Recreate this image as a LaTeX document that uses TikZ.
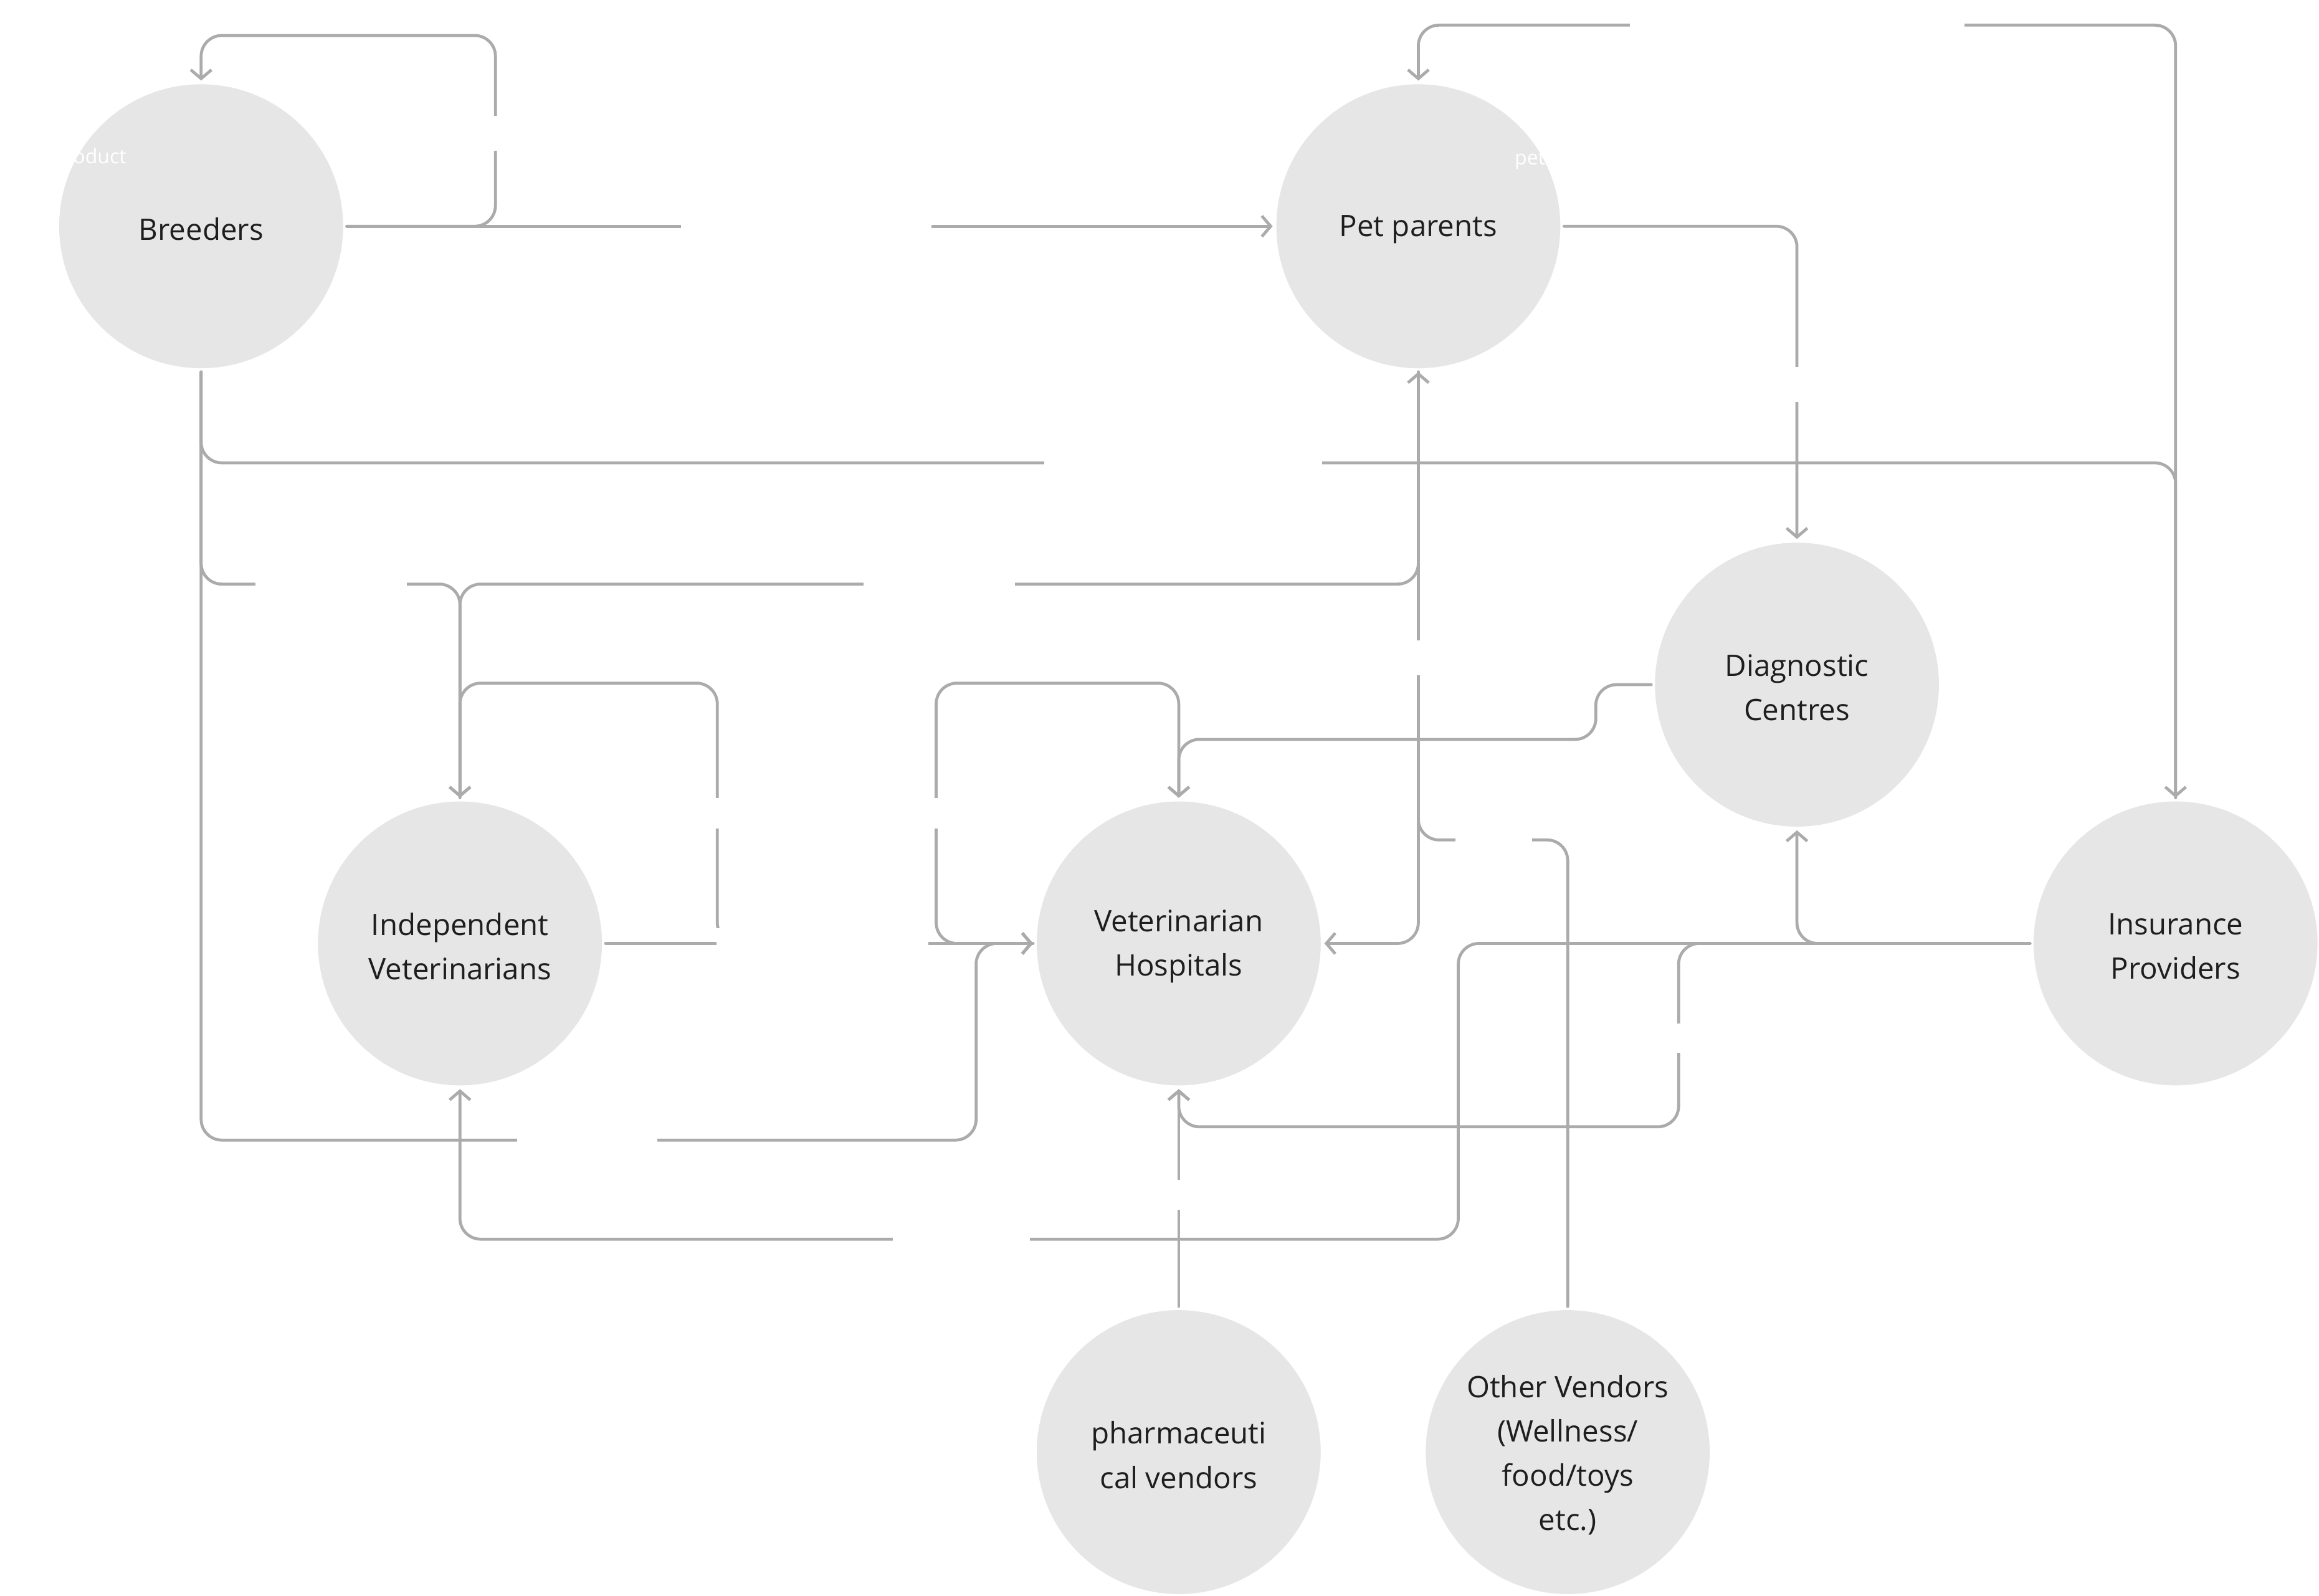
\documentclass[tikz,border=0pt]{standalone}
\usepackage{fontspec}
\setmainfont{Open Sans}
\usetikzlibrary{arrows.meta}
\definecolor{edgegray}{HTML}{ABABAB}
\definecolor{nodegray}{HTML}{E6E6E6}
\definecolor{txtcol}{HTML}{1E1E1E}
\begin{document}
\begin{tikzpicture}[x=1pt,y=-1pt,
  actor/.style={circle,fill=nodegray,minimum size=192pt,inner sep=0pt,outer sep=2.5pt,align=center,
    font=\fontsize{20}{30}\selectfont,text=txtcol},
  lowtext/.style={label={[text=txtcol,font=\fontsize{20}{30}\selectfont,align=center,yshift=-2pt]center:#1}},
  link/.style={draw=edgegray,line width=2pt,rounded corners=14pt,line cap=round},
  arr/.style={-{Straight Barb[length=6pt,width=14pt]}},
  lbl/.style={fill=white,text=white,font=\fontsize{13.5}{16}\selectfont,inner sep=5pt},
  note/.style={text=white,font=\fontsize{13.5}{16}\selectfont,inner sep=0pt}
]
\useasboundingbox[fill=white] (0,0) rectangle (1568,1079.3);

% actors
\node[actor,lowtext={Breeders}] (br) at (136,153) {};
\node[actor,lowtext={Pet parents}] (pp) at (959,153) {};
\node[actor,lowtext={Diagnostic\\Centres}] (dc) at (1215,463) {};
\node[actor,lowtext={Independent\\Veterinarians}] (iv) at (311,638) {};
\node[actor,lowtext={Veterinarian\\Hospitals}] (vh) at (797,638) {};
\node[actor,lowtext={Insurance\\Providers}] (ip) at (1471,638) {};
\node[actor,lowtext={pharmaceuti\\cal vendors}] (ph) at (797,982) {};
\node[actor,lowtext={Other Vendors\\(Wellness/\\food/toys\\etc.)}] (ov) at (1060,982) {};

% helper coordinates
\coordinate (bloopR) at (335,153);
\coordinate (bloopT) at (335,24);
\coordinate (bloopL) at (136,24);
\coordinate (b313) at (136,313);
\coordinate (i313) at (1471,313);
\coordinate (b395) at (136,395);
\coordinate (iv395) at (311,395);
\coordinate (b771) at (136,771);
\coordinate (h771) at (660,771);
\coordinate (h638) at (660,638);
\coordinate (itop) at (1471,17);
\coordinate (ptop) at (959,17);
\coordinate (p153) at (1215,153);
\coordinate (p638) at (959,638);
\coordinate (p395) at (959,395);
\coordinate (o568) at (1060,568);
\coordinate (p568) at (959,568);
\coordinate (ivl1) at (311,462);
\coordinate (ivl2) at (485,462);
\coordinate (ivl3) at (485,638);
\coordinate (hl0) at (633,638);
\coordinate (hl1) at (633,462);
\coordinate (hl2) at (797,462);
\coordinate (d1) at (1079,463);
\coordinate (d2) at (1079,500);
\coordinate (d3) at (797,500);
\coordinate (i1) at (1215,638);
\coordinate (i2) at (1135,638);
\coordinate (i3) at (1135,762);
\coordinate (i4) at (797,762);
\coordinate (i5) at (986,638);
\coordinate (i6) at (986,838);
\coordinate (i7) at (311,838);

% connectors
\draw[link,arr] (br.east) -- (bloopR) -- (bloopT) -- (bloopL) -- (br.north);
\draw[link,arr] (br.east) -- (pp.west);
\draw[link,arr] (br.south) -- (b313) -- (i313) -- (ip.north);
\draw[link,arr] (br.south) -- (b395) -- (iv395) -- (iv.north);
\draw[link,arr] (br.south) -- (b771) -- (h771) -- (h638) -- (vh.west);
\draw[link,arr] (ip.north) -- (itop) -- (ptop) -- (pp.north);
\draw[link,arr] (pp.east) -- (p153) -- (dc.north);
\draw[link,arr] (pp.south) -- (p638) -- (vh.east);
\draw[link,arr] (pp.south) -- (p395) -- (iv395) -- (iv.north);
\draw[link,arr] (ov.north) -- (o568) -- (p568) -- (pp.south);
\draw[link,arr] (iv.north) -- (ivl1) -- (ivl2) -- (ivl3) -- (vh.west);
\draw[link,arr] (iv.east) -- (vh.west);
\draw[link,arr] (vh.west) -- (hl0) -- (hl1) -- (hl2) -- (vh.north);
\draw[link,arr] (dc.west) -- (d1) -- (d2) -- (d3) -- (vh.north);
\draw[link,arr] (ip.west) -- (i1) -- (dc.south);
\draw[link,arr] (ip.west) -- (i2) -- (i3) -- (i4) -- (vh.south);
\draw[link,arr] (ip.west) -- (i5) -- (i6) -- (i7) -- (iv.south);
\draw[link,arr] (ph.north) -- (vh.south);

% labels
\node[lbl] (l1) at (336,90) {Breeding/adoption portal};
\node[lbl] (l2) at (545,153) {Breeding/adoption portal};
\node[lbl] (l3) at (800,313) {Breeding Insurance provider};
\node[lbl] (l4) at (224,395) {Practo for pets};
\node[lbl] (l5) at (635,395) {Practo for pets};
\node[lbl] (l6) at (1215,17) {General/niche insurance providers};
\node[lbl] (l7) at (1215,260) {Clumax for pets};
\node[lbl] (l8) at (960,445) {Practo for pets};
\node[lbl] (l9) at (1010,568) {B2B2C};
\node[lbl] (l10) at (485,550) {Data Transfer Service};
\node[lbl] (l11) at (633,550) {Data Transfer Service};
\node[lbl] (l12) at (556,638) {Data Transfer Service};
\node[lbl] (l13) at (1135,702) {Insurance};
\node[lbl] (l14) at (397,771) {Data Transfer};
\node[lbl] (l15) at (795,808) {Data Transfer Service};
\node[lbl] (l16) at (650,838) {Claim service};
\node[note] (n1) at (43,107) {pet = product};
\node[note] (n2) at (1061,108) {pet = family};
\end{tikzpicture}
\end{document}
